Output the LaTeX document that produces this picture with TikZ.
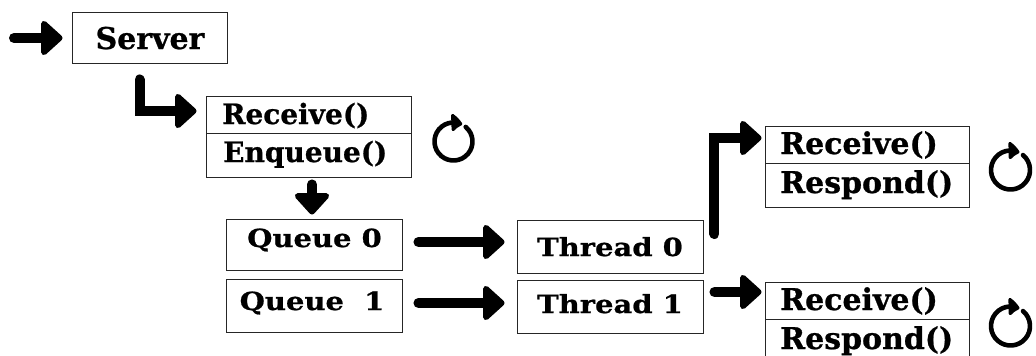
\documentclass[tikz,border=0pt]{standalone}
\usepackage{fontspec}
\setmainfont{DejaVu Serif}[FakeBold=0.8]
\newfontfamily\widefont{DejaVu Serif}[FakeStretch=1.16, FakeBold=0.8]
\usetikzlibrary{arrows.meta,calc,bending}

\tikzset{
  box/.style={draw=black!85, line width=0.9pt, rectangle, inner sep=0pt},
  label text/.style={inner sep=0pt},
  bigarrow/.style={line width=10pt, line cap=round, line join=miter,
    -{Triangle[length=23pt,width=40pt,round]}},
  cycle arrow/.style={line width=4.6pt, line cap=round,
    -{Triangle[length=12pt,width=20pt,round,bend]}},
  fsA/.style={font=\bfseries\fontsize{30}{33}\selectfont},
  fsB/.style={font=\bfseries\fontsize{28}{31}\selectfont},
  fsC/.style={font=\widefont\bfseries\fontsize{25}{28}\selectfont},
  fsD/.style={font=\bfseries\fontsize{30}{33}\selectfont},
}

\begin{document}
\begin{tikzpicture}[x=1pt, y=-1pt]
\path[use as bounding box, clip] (0,0) rectangle (1036,356);

% server
\node[box, minimum width=155pt, minimum height=51pt] (server) at (149.5,37.5) {};
\node[label text, fsA, anchor=base] (servert) at (150,49) {Server};

% receive / enqueue stack
\node[box, minimum width=205pt, minimum height=37pt] (rcv) at (308.5,114.5) {};
\node[box, minimum width=205pt, minimum height=44pt] (enq) at (308.5,155) {};
\node[label text, fsB, anchor=base west] (rcvt) at (222,124) {Receive()};
\node[label text, fsB, anchor=base west] (enqt) at (223,162) {Enqueue()};

% queues
\node[box, minimum width=176pt, minimum height=51pt] (q0) at (314,244.5) {};
\node[box, minimum width=176pt, minimum height=53pt] (q1) at (314,305.5) {};
\node[label text, fsC, anchor=base] (q0t) at (314.5,247) {Queue 0};
\node[label text, fsC, anchor=base] (q1t) at (312,310) {Queue\ \ 1};

% threads
\node[box, minimum width=186pt, minimum height=53pt] (t0) at (610,246.5) {};
\node[box, minimum width=186pt, minimum height=53pt] (t1) at (610,306.5) {};
\node[label text, fsC, anchor=base] (t0t) at (610,256) {Thread 0};
\node[label text, fsC, anchor=base] (t1t) at (610,313) {Thread 1};

% worker stacks
\node[box, minimum width=204pt, minimum height=37pt] (wr0) at (867,144.5) {};
\node[box, minimum width=204pt, minimum height=44pt] (wp0) at (867,185) {};
\node[label text, fsD, anchor=base west] (wr0t) at (780,154) {Receive()};
\node[label text, fsD, anchor=base west] (wp0t) at (780,193) {Respond()};

\node[box, minimum width=204pt, minimum height=37pt] (wr1) at (867,300.5) {};
\node[box, minimum width=204pt, minimum height=44pt] (wp1) at (867,341) {};
\node[label text, fsD, anchor=base west] (wr1t) at (780,310) {Receive()};
\node[label text, fsD, anchor=base west] (wp1t) at (780,349) {Respond()};

% connectors
\coordinate (entry) at (14,38);
\draw[bigarrow] (entry) -- ($(server.west)+(-9,0.5)$);
\draw[bigarrow] ($(server.south west)+(68,16)$) |- ($(rcv.west)+(-9,-3.5)$);
\draw[bigarrow] ($(enq.south)+(3.5,7)$) -- ($(q0.north)+(-2,-4)$);
\draw[bigarrow] ($(q0.east)+(16,-2.5)$) -- ($(t0.west)+(-12,-4.5)$);
\draw[bigarrow] ($(q1.east)+(16,-2.5)$) -- ($(t1.west)+(-12,-3.5)$);
\draw[bigarrow] ($(t0.east)+(11,-12.5)$) |- ($(wr0.west)+(-3,-6.5)$);
\draw[bigarrow] ($(t1.east)+(11,-14.5)$) -- ($(wr1.west)+(-3,-8.5)$);

% loop symbols
\draw[cycle arrow] (453.5,141.5) ++(-50:19) arc[start angle=-50, end angle=297, radius=19];
\draw[cycle arrow] (1010.5,170) ++(-50:19.5) arc[start angle=-50, end angle=297, radius=19.5];
\draw[cycle arrow] (1010.5,326) ++(-50:19.5) arc[start angle=-50, end angle=297, radius=19.5];
\end{tikzpicture}
\end{document}
